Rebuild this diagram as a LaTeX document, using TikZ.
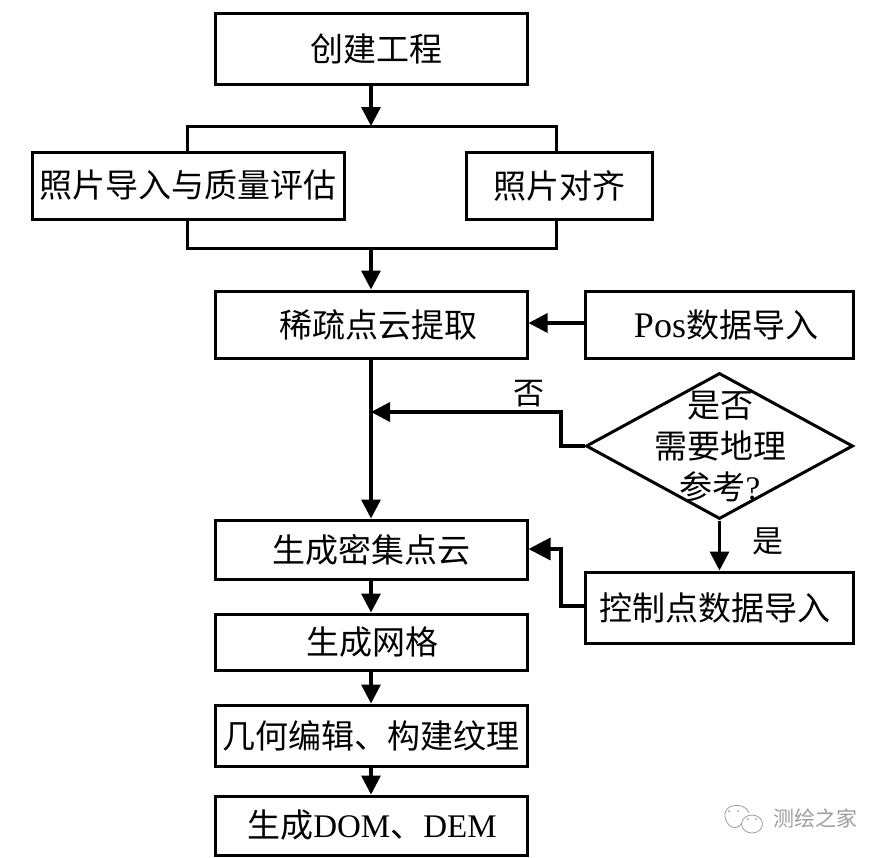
\documentclass[tikz,border=0pt]{standalone}
\usepackage{fontspec}
\setmainfont{Liberation Serif}
\newfontfamily\cjk{Noto Sans CJK SC}
\usetikzlibrary{arrows.meta,shapes.geometric,positioning}
\colorlet{wmgray}{black!38}
\tikzset{
  px/.style={x=1pt,y=-1pt},
  box/.style={draw=black,line width=3pt,inner sep=0pt,font=\fontsize{33}{38}\selectfont,text=black,fill=white},
  flow/.style={draw=black,line width=3.4pt,-{Triangle[length=19pt,width=19pt]}},
  flowbig/.style={draw=black,line width=3.4pt,-{Triangle[length=22pt,width=22pt]}},
  plain/.style={draw=black,line width=3pt,line join=miter},
  lbl/.style={font=\fontsize{31}{36}\selectfont\cjk,text=black,inner sep=0pt},
  wmline/.style={draw=wmgray,line width=0.8pt},
}
\newcommand{\bx}[7]{%name, x1,y1,x2,y2,shift,text
  \node[box,minimum width=#4pt-#2pt,minimum height=#5pt-#3pt] (#1) at ({(#2+#4)/2},{(#3+#5)/2}) {\hspace*{#6pt}#7};}
\begin{document}
\begin{tikzpicture}[px]
\useasboundingbox (0,0) rectangle (886,857);
\fill[white] (0,0) rectangle (886,857);
% junction bars
\coordinate (tl) at (187,126);
\coordinate (tm) at (371,126);
\coordinate (tr) at (556,126);
\coordinate (bl) at (187,248);
\coordinate (bm) at (371,248);
\coordinate (br) at (556,248);
\coordinate (ta) at (187,152);
\coordinate (tb) at (556,152);
\coordinate (ua) at (187,219);
\coordinate (ub) at (556,219);
\draw[plain] (ta) -- (tl) -- (tr) -- (tb);
\draw[plain] (ua) -- (bl) -- (br) -- (ub);
\bx{create}{215}{13}{527}{84}{10}{\cjk 创建工程}
\bx{photo}{32}{152}{344}{219}{0}{\cjk 照片导入与质量评估}
\bx{align}{466}{152}{652}{219}{0}{\cjk 照片对齐}
\bx{sparse}{215}{291}{527}{358}{14}{\raisebox{2pt}{\cjk 稀疏点云提取}}
\bx{pos}{585}{291}{853}{358}{14}{\raisebox{2pt}{{\fontsize{36}{38}\selectfont Pos}{\cjk 数据导入}}}
\bx{dense}{215}{520}{527}{579}{0}{\cjk 生成密集点云}
\bx{ctrl}{585}{572}{853}{643}{-8}{\cjk 控制点数据导入}
\bx{mesh}{215}{614}{527}{670}{2}{\cjk 生成网格}
\bx{geom}{215}{705}{527}{766}{0}{\cjk 几何编辑、构建纹理}
\bx{dom}{215}{796}{527}{855}{2}{{\cjk 生成}DOM{\cjk 、}DEM}
\node[draw=black,line width=3pt,diamond,aspect=1.83,inner sep=0pt,minimum width=267pt,minimum height=146pt] (geo) at (719.5,446) {};
\node[font=\fontsize{33}{41}\selectfont,inner sep=0pt,align=center] (geotxt) at (720,447) {{\cjk 是否}\\{\cjk 需要地理}\\{\cjk 参考}?};
% connectors
\coordinate (j1) at (371,412);
\coordinate (k1) at (561,412);
\coordinate (k2) at (561,446);
\coordinate (m1) at (561,606);
\coordinate (m2) at (561,549);
\coordinate (p1) at (585,323);
\draw[flow] (create.south -| tm) -- (tm);
\draw[flow] (bm) -- (sparse.north -| bm);
\draw[flow] (p1) -- (sparse.east |- p1);
\draw[flow] (sparse.south -| j1) -- (dense.north -| j1);
\draw[flow,line join=miter] (geo.west) -- (k2) -- (k1) -- (j1);
\draw[flow] (geo.south) -- (ctrl.north -| geo.south);
\draw[flowbig,line join=miter] (ctrl.west |- m1) -- (m1) -- (m2) -- (dense.east |- m2);
\draw[flow] (dense.south -| j1) -- (mesh.north -| j1);
\draw[flow] (mesh.south -| j1) -- (geom.north -| j1);
\draw[flow] (geom.south -| j1) -- (dom.north -| j1);
\node[lbl] (no) at (529,394) {否};
\node[lbl] (yes) at (768,541) {是};
% watermark
\node[font=\fontsize{21}{24}\selectfont\cjk,text=wmgray,inner sep=0pt] (wm) at (815,818) {测绘之家};
\draw[wmline] (742,823) .. controls (738,829) and (733,828) .. (730,826) .. controls (722,818) and (724,808) .. (732,806) .. controls (740,804) and (747,807) .. (749,813);
\draw[wmline] (752,824) ellipse (10.5pt and 9pt);
\fill[wmgray] (748,819) circle (1pt) (756,819) circle (1pt) (729,811) circle (1pt) (738,811) circle (1pt);
\end{tikzpicture}
\end{document}
